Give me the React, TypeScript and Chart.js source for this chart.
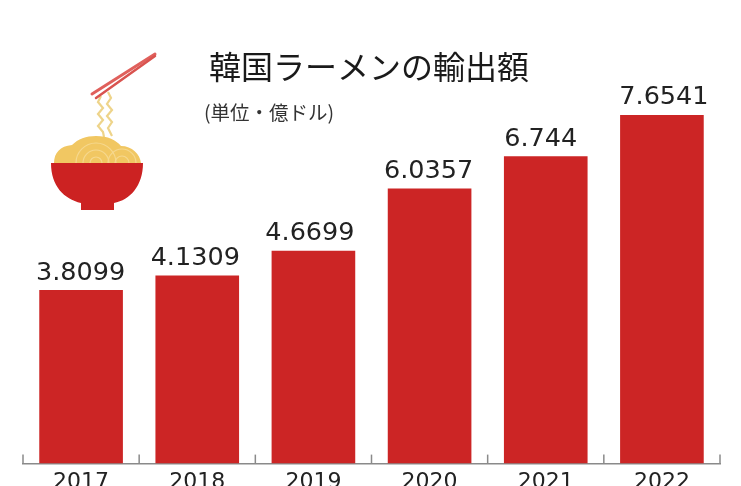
import React, { useEffect, useRef } from "react";
import { Chart, registerables } from "chart.js";

Chart.register(...registerables);

const years = ["2017", "2018", "2019", "2020", "2021", "2022"];
const exportsValue = [3.8099, 4.1309, 4.6699, 6.0357, 6.744, 7.6541];
const valueLabels = ["3.8099", "4.1309", "4.6699", "6.0357", "6.744", "7.6541"];
const labelNudgeX = [-0.5, -2, -3.5, -1, -5, 2];
const titleText = "韓国ラーメンの輸出額";
const unitText = "(単位・億ドル)";

const CJK = '"Noto Sans CJK JP", "Noto Sans", sans-serif';
const LATIN = '"DejaVu Sans", sans-serif';

const decor = {
  id: "decor",
  afterDatasetsDraw(chart: any) {
    const { ctx, chartArea } = chart;
    const x = chart.scales.x;
    const y = chart.scales.y;
    const band = x.getPixelForValue(1) - x.getPixelForValue(0);
    ctx.save();
    ctx.strokeStyle = "#8a8a8a";
    ctx.lineWidth = 1.5;
    for (let i = 0; i <= years.length; i++) {
      const px = x.getPixelForValue(0) - band / 2 + band * i;
      ctx.beginPath();
      ctx.moveTo(px, chartArea.bottom);
      ctx.lineTo(px, chartArea.bottom - 9);
      ctx.stroke();
    }
    ctx.fillStyle = "#222";
    ctx.font = `25.5px ${LATIN}`;
    ctx.textAlign = "center";
    ctx.textBaseline = "alphabetic";
    exportsValue.forEach((v, i) => {
      ctx.fillText(valueLabels[i], x.getPixelForValue(i) + labelNudgeX[i], y.getPixelForValue(v) - 10.5);
    });
    ctx.textAlign = "left";
    ctx.fillStyle = "#1a1a1a";
    ctx.font = `32px ${CJK}`;
    ctx.fillText(titleText, 209, 79);
    ctx.fillStyle = "#333";
    ctx.font = `19.5px ${CJK}`;
    ctx.fillText(unitText, 204, 120);
    ctx.restore();
  },
};

function Bowl() {
  return (
    <svg
      width={741}
      height={486}
      style={{ position: "absolute", left: 0, top: 0, pointerEvents: "none" }}
    >
      <g fill="none" stroke="#eed48a" strokeWidth={2.2}>
        <path d="M101 96l-3 6l5 6l-5 6l5 6l-5 6l5 6l1 5" />
        <path d="M108 92l3 6l-4 6l5 6l-5 6l5 6l-4 6l4 8" />
      </g>
      <path d="M92 94L155 54" stroke="#e0605c" strokeWidth={3} strokeLinecap="round" />
      <path d="M96 98L155 56" stroke="#d9534f" strokeWidth={2.5} strokeLinecap="round" />
      <path
        d="M54 163C54 153 60 146 72 145C78 139 86 136 96 136C108 136 116 140 121 146C132 146 140 154 141 163Z"
        fill="#f1c762"
      />
      <g fill="none" stroke="#f6d88e" strokeWidth={1.2}>
        <path d="M76 163a20 20 0 0 1 40 0" />
        <path d="M83 163a13 13 0 0 1 26 0" />
        <path d="M90 163a6 6 0 0 1 12 0" />
        <path d="M108 163a14 14 0 0 1 28 0" />
        <path d="M115 163a7 7 0 0 1 14 0" />
      </g>
      <path
        d="M51 163H143C143 186 130 200 114 203V210H81V203C64 199 51 186 51 163Z"
        fill="#cc2222"
      />
    </svg>
  );
}

export default function App() {
  const ref = useRef<HTMLCanvasElement>(null);
  useEffect(() => {
    const chart = new Chart(ref.current!, {
      type: "bar",
      data: {
        labels: years,
        datasets: [
          {
            data: exportsValue,
            backgroundColor: "#cc2525",
            categoryPercentage: 0.72,
            barPercentage: 1,
          },
        ],
      },
      options: {
        animation: false,
        responsive: false,
        devicePixelRatio: 1,
        layout: { padding: { left: 23, right: 21, top: 8, bottom: 0 } },
        plugins: { legend: { display: false }, tooltip: { enabled: false } },
        scales: {
          x: {
            grid: { display: false },
            border: { display: true, color: "#8a8a8a", width: 1.5 },
            ticks: {
              color: "#222",
              font: { family: LATIN, size: 22 },
              padding: -3,
              maxRotation: 0,
            },
          },
          y: {
            display: false,
            min: 0,
            max: 10,
          },
        },
      },
      plugins: [decor],
    });
    return () => chart.destroy();
  }, []);
  return (
    <div style={{ position: "fixed", left: 0, top: 0, width: 741, height: 486, overflow: "hidden", background: "#fff" }}>
      <canvas ref={ref} width={741} height={492} style={{ position: "absolute", left: 0, top: 0 }} />
      <Bowl />
    </div>
  );
}
